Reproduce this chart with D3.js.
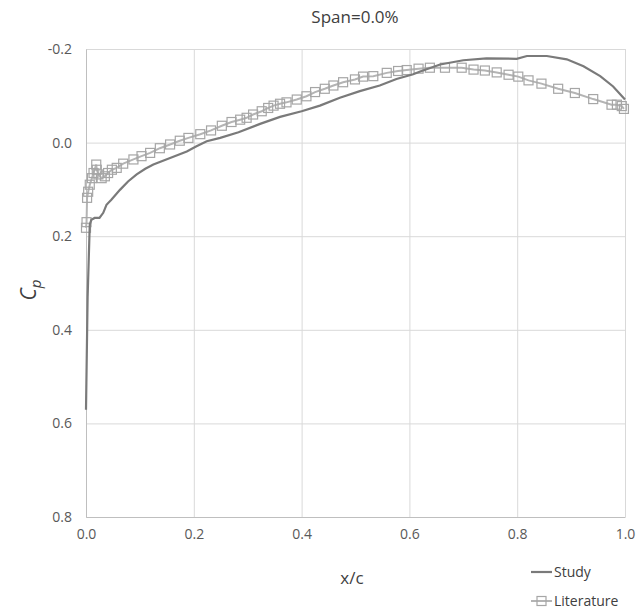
<!DOCTYPE html>
<html>
<head>
<meta charset="utf-8">
<script src="https://cdn.jsdelivr.net/npm/d3@7"></script>
<style>
body { margin: 0; background: #fff; }
text { font-family: "Open Sans", "Noto Sans", sans-serif; }
</style>
</head>
<body>
<div id="chart"></div>
<script>
var w = 637;
var h = 614;

var title = 'Span=0.0%';
var xTicks = [0, 0.2, 0.4, 0.6, 0.8, 1.0];
var yTicks = [-0.2, 0, 0.2, 0.4, 0.6, 0.8];

// Study curve (x/c, Cp)
var studyX = [0.000, 0.003, 0.007, 0.010, 0.016, 0.025, 0.032, 0.038, 0.047, 0.063, 0.078, 0.094, 0.110,
    0.125, 0.156, 0.187, 0.205, 0.224, 0.249, 0.283, 0.323, 0.360, 0.400, 0.434, 0.471, 0.508,
    0.545, 0.576, 0.607, 0.620, 0.657, 0.700, 0.743, 0.799, 0.818, 0.855, 0.892, 0.923, 0.954,
    0.978, 1.000];
var studyY = [0.571, 0.330, 0.175, 0.165, 0.161, 0.161, 0.150, 0.133, 0.122, 0.101, 0.083, 0.068, 0.056,
    0.047, 0.033, 0.019, 0.008, -0.003, -0.010, -0.022, -0.040, -0.055, -0.067, -0.079, -0.096, -0.110,
    -0.122, -0.136, -0.146, -0.152, -0.167, -0.176, -0.180, -0.179, -0.185, -0.185, -0.178, -0.163, -0.142,
    -0.120, -0.092];

// Literature points (x/c, Cp)
var litX = [0.000, 0.001, 0.002, 0.004, 0.007, 0.011, 0.014, 0.019, 0.020, 0.023, 0.029, 0.035, 0.041,
    0.048, 0.057, 0.069, 0.088, 0.103, 0.119, 0.137, 0.156, 0.174, 0.190, 0.212, 0.232, 0.252,
    0.270, 0.286, 0.298, 0.310, 0.326, 0.338, 0.348, 0.360, 0.372, 0.391, 0.409, 0.425, 0.443,
    0.459, 0.477, 0.499, 0.514, 0.533, 0.558, 0.579, 0.595, 0.617, 0.638, 0.666, 0.697, 0.719,
    0.740, 0.762, 0.784, 0.802, 0.821, 0.845, 0.876, 0.907, 0.941, 0.975, 0.985, 0.994, 0.998];
var litY = [0.182, 0.170, 0.118, 0.105, 0.090, 0.076, 0.065, 0.047, 0.058, 0.068, 0.076, 0.072, 0.065,
    0.058, 0.054, 0.045, 0.036, 0.029, 0.022, 0.012, 0.004, -0.004, -0.010, -0.018, -0.026, -0.036,
    -0.044, -0.049, -0.053, -0.060, -0.067, -0.074, -0.079, -0.083, -0.086, -0.092, -0.099, -0.108, -0.115,
    -0.122, -0.129, -0.135, -0.141, -0.142, -0.149, -0.153, -0.155, -0.158, -0.160, -0.160, -0.160, -0.156,
    -0.154, -0.150, -0.145, -0.141, -0.133, -0.126, -0.115, -0.106, -0.093, -0.081, -0.081, -0.078, -0.072];

var study = studyX.map(function(d, i) { return [d, studyY[i]]; });
var lit = litX.map(function(d, i) { return [d, litY[i]]; });

var x = d3.scaleLinear().domain([0, 1]).range([86, 625]);
var y = d3.scaleLinear().domain([-0.2, 0.8]).range([49, 517]);

var svg = d3.select('#chart').append('svg')
    .attr('width', w)
    .attr('height', h);

// gridlines
svg.append('g')
    .attr('transform', 'translate(0,517)')
    .call(d3.axisBottom(x).tickValues(xTicks).tickSize(-468).tickFormat(''))
    .call(function(g) { g.select('.domain').remove(); })
    .selectAll('line').attr('stroke', '#d9d9d9');
svg.append('g')
    .attr('transform', 'translate(86,0)')
    .call(d3.axisLeft(y).tickValues(yTicks).tickSize(-539).tickFormat(''))
    .call(function(g) { g.select('.domain').remove(); })
    .selectAll('line').attr('stroke', '#d9d9d9');

// axis lines + labels
var xAxis = svg.append('g')
    .attr('transform', 'translate(0,517)')
    .call(d3.axisBottom(x).tickValues(xTicks).tickSize(0).tickPadding(12).tickFormat(d3.format('.1f')));
xAxis.select('.domain').attr('stroke', '#bfbfbf');
xAxis.selectAll('text').attr('font-size', 14).attr('fill', '#595959');

var yAxis = svg.append('g')
    .attr('transform', 'translate(86,0)')
    .call(d3.axisLeft(y).tickValues(yTicks).tickSize(0).tickPadding(14).tickFormat(function(d) {
        return d3.format('.1f')(d).replace('−', '-');
    }));
yAxis.select('.domain').attr('stroke', '#bfbfbf');
yAxis.selectAll('text').attr('font-size', 14).attr('fill', '#595959');

var line = d3.line()
    .x(function(d) { return x(d[0]); })
    .y(function(d) { return y(d[1]); });

svg.append('path')
    .datum(lit)
    .attr('d', line)
    .attr('fill', 'none')
    .attr('stroke', '#b4b4b4')
    .attr('stroke-width', 2);

svg.selectAll('rect.lit')
    .data(lit)
    .enter()
    .append('rect')
    .attr('class', 'lit')
    .attr('x', function(d) { return x(d[0]) - 4.5; })
    .attr('y', function(d) { return y(d[1]) - 4.5; })
    .attr('width', 9)
    .attr('height', 9)
    .attr('fill', 'none')
    .attr('stroke', '#a6a6a6')
    .attr('stroke-width', 1.2);

svg.append('path')
    .datum(study)
    .attr('d', line)
    .attr('fill', 'none')
    .attr('stroke', '#7a7a7a')
    .attr('stroke-width', 2.2);

// title and axis titles
svg.append('text')
    .attr('x', 355).attr('y', 23)
    .attr('text-anchor', 'middle')
    .attr('font-size', 17)
    .attr('fill', '#404040')
    .text(title);

svg.append('text')
    .attr('x', 352).attr('y', 584)
    .attr('text-anchor', 'middle')
    .attr('font-size', 17)
    .attr('fill', '#404040')
    .text('x/c');

var cp = svg.append('text')
    .attr('transform', 'translate(36,290) rotate(-90)')
    .attr('text-anchor', 'middle')
    .attr('font-size', 21)
    .attr('font-style', 'italic')
    .attr('fill', '#404040');
cp.append('tspan').text('C');
cp.append('tspan').attr('font-size', 15).attr('dy', 5).text('p');

// legend
svg.append('line')
    .attr('x1', 531).attr('x2', 552).attr('y1', 572).attr('y2', 572)
    .attr('stroke', '#7a7a7a').attr('stroke-width', 2.2);
svg.append('text')
    .attr('x', 554).attr('y', 577)
    .attr('font-size', 14).attr('fill', '#404040')
    .text('Study');

svg.append('line')
    .attr('x1', 531).attr('x2', 552).attr('y1', 601).attr('y2', 601)
    .attr('stroke', '#b4b4b4').attr('stroke-width', 2);
svg.append('rect')
    .attr('x', 537).attr('y', 596.5).attr('width', 9).attr('height', 9)
    .attr('fill', 'none').attr('stroke', '#a6a6a6').attr('stroke-width', 1.2);
svg.append('text')
    .attr('x', 554).attr('y', 606)
    .attr('font-size', 14).attr('fill', '#404040')
    .text('Literature');
</script>
</body>
</html>
